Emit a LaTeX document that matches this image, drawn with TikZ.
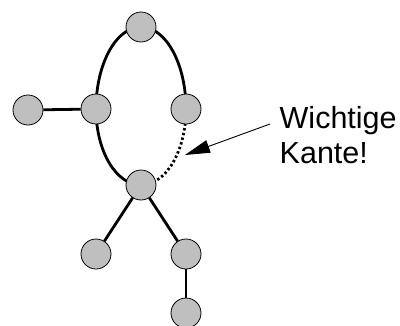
\documentclass[tikz,border=0pt]{standalone}
\usepackage{fontspec}
\setmainfont{Liberation Sans}
\usetikzlibrary{arrows.meta,backgrounds}
\begin{document}
\begin{tikzpicture}[x=1pt,y=-1pt,
  vert/.style={circle,draw=black,line width=0.8pt,fill=black!25,minimum size=30pt,inner sep=0pt},
  edge/.style={line width=2.8pt},
  dottededge/.style={line width=2.8pt,dash pattern=on 2.4pt off 2.4pt},
  pointer/.style={line width=0.9pt,-{Triangle[length=25pt,width=13pt]}},
  calloutText/.style={anchor=base west,align=left,inner sep=0pt,font=\fontsize{30.5pt}{35pt}\selectfont}]
\useasboundingbox (0,0) rectangle (400,325);
\node[vert] (top) at (141,27) {};
\node[vert] (outer) at (28,110) {};
\node[vert] (left) at (96,109) {};
\node[vert] (right) at (186,109) {};
\node[vert] (mid) at (141,185) {};
\node[vert] (bl) at (96,254) {};
\node[vert] (br) at (186,254) {};
\node[vert] (bot) at (186,313) {};
\begin{scope}[on background layer]
\draw[edge] (top.center) .. controls +(-25,0) and +(0,-45) .. (left.center);
\draw[edge] (top.center) .. controls +(25,0) and +(0,-45) .. (right.center);
\draw[edge] (left.center) .. controls +(0,42) and +(-25,0) .. (mid.center);
\draw[dottededge] (right.center) .. controls +(0,42) and +(25,0) .. (mid.center);
\end{scope}
\draw[edge] (outer) -- (left);
\draw[edge] (mid) -- (bl);
\draw[edge] (mid) -- (br);
\draw[edge] (br) -- (bot);
\node[calloutText] (txt) at (279.5,163.3) {Wichtige\\Kante!};
\coordinate (tail) at (270,124);
\coordinate (tip) at (185,155);
\draw[pointer] (tail) -- (tip);
\end{tikzpicture}
\end{document}
